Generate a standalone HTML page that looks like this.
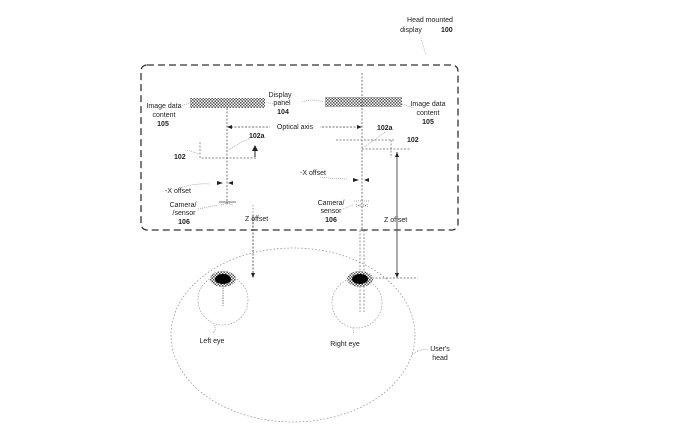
<!DOCTYPE html>
<html><head><meta charset="utf-8"><style>
html,body{margin:0;padding:0;background:#fff;}
svg{display:block;}
text{font-family:"Liberation Sans",sans-serif;fill:#222;font-size:7px;}
.b{font-weight:bold;}
</style></head><body>
<svg width="678" height="431" viewBox="0 0 678 431" xmlns="http://www.w3.org/2000/svg">
<defs>
<pattern id="hatch" width="3" height="3" patternUnits="userSpaceOnUse">
<rect width="3" height="3" fill="#fff"/><rect width="1.5" height="1.5" fill="#555"/><rect x="1.5" y="1.5" width="1.5" height="1.5" fill="#555"/>
</pattern>
<marker id="ah" markerWidth="6" markerHeight="6" refX="5" refY="3" orient="auto"><path d="M0,0 L6,3 L0,6z" fill="#222"/></marker>
</defs>
<rect x="141" y="65" width="317" height="165" rx="6" fill="none" stroke="#333" stroke-width="1.3" stroke-dasharray="7,4"/>
<text x="430" y="22" text-anchor="middle">Head mounted</text>
<text x="411" y="32" text-anchor="middle">display</text><text x="441" y="32" class="b">100</text>
<path d="M421,38 L426,55" stroke="#999" stroke-width="0.6" stroke-dasharray="1,1" fill="none"/>
<rect x="190" y="98" width="75" height="10" fill="url(#hatch)"/>
<rect x="325" y="97" width="77" height="10" fill="url(#hatch)"/>
<text x="280" y="97" text-anchor="middle">Display</text>
<text x="282" y="105" text-anchor="middle">panel</text>
<text x="283" y="114" text-anchor="middle" class="b">104</text>
<path d="M266,102 Q275,106 282,100 M302,102 Q312,98 323,102" stroke="#888" stroke-width="0.6" stroke-dasharray="1,1" fill="none"/>
<text x="164" y="108" text-anchor="middle">Image data</text>
<text x="164" y="117" text-anchor="middle">content</text>
<text x="163" y="126" text-anchor="middle" class="b">105</text>
<path d="M180,106 L190,103" stroke="#888" stroke-width="0.6" stroke-dasharray="1,1"/>
<text x="428" y="106" text-anchor="middle">Image data</text>
<text x="428" y="115" text-anchor="middle">content</text>
<text x="428" y="124" text-anchor="middle" class="b">105</text>
<path d="M402,104 L414,108" stroke="#888" stroke-width="0.6" stroke-dasharray="1,1"/>
<line x1="227" y1="108" x2="227" y2="205" stroke="#444" stroke-width="0.7" stroke-dasharray="2,1.5"/>
<line x1="362" y1="73" x2="362" y2="230" stroke="#444" stroke-width="0.7" stroke-dasharray="2,1.5"/>
<line x1="231" y1="127" x2="358" y2="127" stroke="#444" stroke-width="0.7" stroke-dasharray="2,1.5"/>
<path d="M227,127 l5,-2 v4z M362,127 l-5,-2 v4z" fill="#222"/>
<rect x="270" y="122" width="50" height="9" fill="#fff"/>
<text x="295" y="129" text-anchor="middle">Optical axis</text>
<path d="M200,142 V158 H257" stroke="#666" stroke-width="0.7" stroke-dasharray="2,1.5" fill="none"/>
<line x1="255" y1="157" x2="255" y2="146" stroke="#222" stroke-width="1" marker-end="url(#ah)"/>
<text x="249" y="138" class="b">102a</text>
<path d="M249,139 Q238,143 229,150" stroke="#888" stroke-width="0.6" stroke-dasharray="1,1" fill="none"/>
<text x="174" y="159" class="b">102</text>
<path d="M187,150 L199,154" stroke="#888" stroke-width="0.6" stroke-dasharray="1,1"/>
<line x1="336" y1="140" x2="395" y2="140" stroke="#666" stroke-width="0.7" stroke-dasharray="2,1.5"/>
<line x1="362" y1="149" x2="410" y2="149" stroke="#666" stroke-width="0.7" stroke-dasharray="2,1.5"/>
<line x1="391" y1="140" x2="391" y2="158" stroke="#666" stroke-width="0.7" stroke-dasharray="2,1.5"/>
<text x="377" y="130" class="b">102a</text>
<path d="M385,132 Q375,140 364,147" stroke="#888" stroke-width="0.6" stroke-dasharray="1,1" fill="none"/>
<text x="407" y="142" class="b">102</text>
<path d="M223,183 l-6,-2 v4z M228,183 l5,-2 v4z" fill="#222"/>
<text x="165" y="193">-X offset</text>
<path d="M180,188 Q195,183 210,184" stroke="#888" stroke-width="0.6" stroke-dasharray="1,1" fill="none"/>
<path d="M359,180 l-6,-2 v4z M364,180 l5,-2 v4z" fill="#222"/>
<text x="300" y="175">-X offset</text>
<path d="M320,177 Q335,179 348,179" stroke="#888" stroke-width="0.6" stroke-dasharray="1,1" fill="none"/>
<line x1="219" y1="202" x2="236" y2="202" stroke="#444" stroke-width="0.8"/>
<path d="M221,205 l6,-2 l6,2" stroke="#666" stroke-width="0.6" stroke-dasharray="1,1" fill="none"/>
<text x="183" y="207" text-anchor="middle">Camera/</text>
<text x="184" y="215" text-anchor="middle">/sensor</text>
<text x="184" y="224" text-anchor="middle" class="b">106</text>
<path d="M198,209 L218,205" stroke="#888" stroke-width="0.6" stroke-dasharray="1,1"/>
<path d="M354,201 h16 M356,204 l6,3 l6,-3 M356,207 l6,-3 l6,3" stroke="#555" stroke-width="0.6" stroke-dasharray="1,1" fill="none"/>
<text x="331" y="205" text-anchor="middle">Camera/</text>
<text x="331" y="213" text-anchor="middle">sensor</text>
<text x="331" y="222" text-anchor="middle" class="b">106</text>
<path d="M343,209 L353,205" stroke="#888" stroke-width="0.6" stroke-dasharray="1,1"/>
<line x1="253" y1="205" x2="253" y2="230" stroke="#666" stroke-width="0.6" stroke-dasharray="1.5,1.5"/>
<text x="245" y="221">Z offset</text>
<text x="384" y="222">Z offset</text>
<line x1="253" y1="215" x2="253" y2="274" stroke="#333" stroke-width="0.8" stroke-dasharray="2,1.5"/>
<path d="M253,278 l-2,-5 h4z" fill="#222"/>
<line x1="397" y1="152" x2="397" y2="274" stroke="#555" stroke-width="1"/>
<path d="M397,152 l-2,5 h4z M397,278 l-2,-5 h4z" fill="#222"/>
<line x1="372" y1="278" x2="418" y2="278" stroke="#666" stroke-width="0.7" stroke-dasharray="2,1.5"/>
<line x1="360" y1="230" x2="360" y2="312" stroke="#555" stroke-width="0.6" stroke-dasharray="2,1.5"/>
<line x1="364" y1="230" x2="364" y2="312" stroke="#555" stroke-width="0.6" stroke-dasharray="2,1.5"/>
<ellipse cx="293" cy="335" rx="122" ry="87" fill="none" stroke="#888" stroke-width="0.7" stroke-dasharray="1.5,2"/>
<text x="440" y="351" text-anchor="middle">User's</text>
<text x="440" y="360" text-anchor="middle">head</text>
<path d="M412,355 Q420,348 428,350" stroke="#888" stroke-width="0.6" stroke-dasharray="1,1" fill="none"/>
<circle cx="223" cy="300" r="25" fill="none" stroke="#888" stroke-width="0.6" stroke-dasharray="1.5,1.5"/>
<circle cx="357" cy="303" r="25" fill="none" stroke="#888" stroke-width="0.6" stroke-dasharray="1.5,1.5"/>
<line x1="223" y1="280" x2="223" y2="306" stroke="#555" stroke-width="0.7" stroke-dasharray="1.5,1"/>
<ellipse cx="223" cy="279" rx="13" ry="8" fill="url(#hatch)"/>
<ellipse cx="223" cy="279" rx="8" ry="5" fill="#000"/>
<ellipse cx="360" cy="279" rx="13" ry="8" fill="url(#hatch)"/>
<ellipse cx="360" cy="279" rx="8" ry="5" fill="#000"/>
<path d="M214,325 Q217,330 213,333 M353,328 L354,334" stroke="#888" stroke-width="0.6" stroke-dasharray="1,1" fill="none"/>
<text x="212" y="343" text-anchor="middle">Left eye</text>
<text x="345" y="346" text-anchor="middle">Right eye</text>
</svg>
</body></html>
